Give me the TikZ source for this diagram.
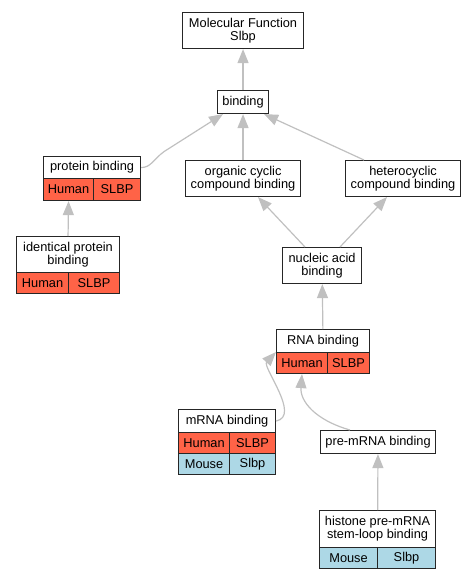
\documentclass[tikz,border=0pt]{standalone}
\usepackage{fontspec}
\setmainfont{Liberation Sans}
\usetikzlibrary{arrows.meta}
\definecolor{hsred}{HTML}{FF6347}
\definecolor{mmblue}{HTML}{ADD8E6}
\definecolor{edgegray}{HTML}{C0C0C0}
\begin{document}
\begin{tikzpicture}[
		x=1pt, y=-1pt,
		term/.style = {rectangle, draw=black!85, fill=white, line width=1.1pt, inner sep=0pt, align=center, anchor=north west, font=\fontsize{12.8}{13}\selectfont},
		hs/.style = {term, fill=hsred},
		mm/.style = {term, fill=mmblue},
		isa/.style = {-{Triangle[length=14pt,width=11pt]}, draw=edgegray, line width=1.2pt}
		]
		\useasboundingbox (0,0) rectangle (476,579);
		
		%Nodes
		\node[term, minimum width=121, minimum height=36]	(mf)	at	(182, 12)	{Molecular Function\\Slbp};
		\node[term, minimum width=51, minimum height=23]	(bind)	at	(217, 90)	{binding};
		\node[term, minimum width=97, minimum height=22]	(pb)	at	(43, 156)	{protein binding};
		\node[hs, minimum width=50, minimum height=22]		(pbHu)	at	(43, 178)	{Human};
		\node[hs, minimum width=47, minimum height=22]		(pbSl)	at	(93, 178)	{SLBP};
		\node[term, minimum width=115, minimum height=36]	(occ)	at	(185, 160)	{organic cyclic\\compound binding};
		\node[term, minimum width=115, minimum height=36]	(hcc)	at	(345, 160)	{heterocyclic\\compound binding};
		\node[term, minimum width=103, minimum height=36]	(ipb)	at	(16, 236)	{identical protein\\binding};
		\node[hs, minimum width=52, minimum height=21]		(ipbHu)	at	(16, 272)	{Human};
		\node[hs, minimum width=51, minimum height=21]		(ipbSl)	at	(68, 272)	{SLBP};
		\node[term, minimum width=79, minimum height=36]	(nab)	at	(282, 247)	{nucleic acid\\binding};
		\node[term, minimum width=93, minimum height=23]	(rna)	at	(276, 329)	{RNA binding};
		\node[hs, minimum width=51, minimum height=21]		(rnaHu)	at	(276, 352)	{Human};
		\node[hs, minimum width=42, minimum height=21]		(rnaSl)	at	(327, 352)	{SLBP};
		\node[term, minimum width=97, minimum height=23]	(mrna)	at	(178, 409)	{mRNA binding};
		\node[hs, minimum width=51, minimum height=21]		(mrnaHu)	at	(178, 432)	{Human};
		\node[hs, minimum width=46, minimum height=21]		(mrnaSl)	at	(229, 432)	{SLBP};
		\node[mm, minimum width=51, minimum height=21]		(mrnaMo)	at	(178, 453)	{Mouse};
		\node[mm, minimum width=46, minimum height=21]		(mrnaSb)	at	(229, 453)	{Slbp};
		\node[term, minimum width=115, minimum height=23]	(pre)	at	(320, 430)	{pre-mRNA binding};
		\node[term, minimum width=116, minimum height=37]	(hist)	at	(319, 510)	{histone pre-mRNA\\stem-loop binding};
		\node[mm, minimum width=58, minimum height=21]		(histMo)	at	(319, 547)	{Mouse};
		\node[mm, minimum width=58, minimum height=21]		(histSb)	at	(377, 547)	{Slbp};
		
		%Lines
		\draw[isa]	(bind)	--	(mf);
		\draw[isa]	(pb.east)	.. controls +(10,0) and +(-11,8) ..	++(23,-16)	--	([xshift=6]bind.south west);
		\draw[isa]	(occ)	--	(bind);
		\draw[isa]	([xshift=19]hcc.north west)	--	([xshift=-5]bind.south east);
		\draw[isa]	(ipb.north)	--	(pbHu.south);
		\draw[isa]	([xshift=23]nab.north west)	--	([xshift=73]occ.south west);
		\draw[isa]	([xshift=58]nab.north west)	--	([xshift=42]hcc.south west);
		\draw[isa]	(rna)	--	(nab);
		\draw[isa]	(mrna.east)	.. controls +(25,-5) and +(-14,15) ..	([yshift=11]rnaHu.west);
		\draw[isa]	([xshift=30]pre.north west)	.. controls +(-35,-10) and +(-2,27) ..	([xshift=26]rnaHu.south west);
		\draw[isa]	(hist)	--	(pre);
	\end{tikzpicture}
\end{document}
